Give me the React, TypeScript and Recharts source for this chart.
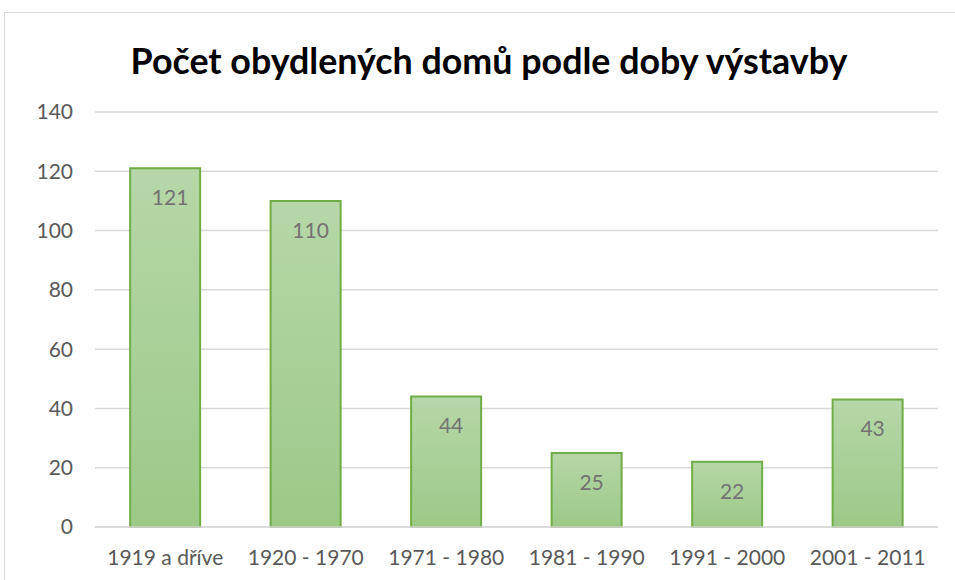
import React from 'react';
import { BarChart, Bar, XAxis, YAxis, CartesianGrid, LabelList } from 'recharts';

const categories = ['1919 a dříve', '1920 - 1970', '1971 - 1980', '1981 - 1990', '1991 - 2000', '2001 - 2011'];
const values = [121, 110, 44, 25, 22, 43];
const yTicks = [0, 20, 40, 60, 80, 100, 120, 140];

const title = 'Počet obydlených domů podle doby výstavby';

const data = categories.map((name, i) => ({ name, value: values[i] }));

const font = 'Lato, "Open Sans", sans-serif';

const App: React.FC = () => {
    return (
        <div style={{ position: 'absolute', left: 0, top: 0, width: 955, height: 580, background: '#fff', overflow: 'hidden', fontFamily: font }}>
            <div style={{ position: 'absolute', left: 4, top: 12, width: 1000, height: 1000, borderTop: '1px solid #d9d9d9', borderLeft: '1px solid #d9d9d9' }} />
            <div style={{ position: 'absolute', left: 0, top: 39, width: 978, textAlign: 'center', fontSize: 35.8, fontWeight: 700, color: '#000', lineHeight: '44px' }}>
                {title}
            </div>
            <div style={{ position: 'absolute', left: 0, top: 0 }}>
                <BarChart width={955} height={580} data={data} margin={{ top: 112, right: 17, bottom: 13, left: 0 }} barCategoryGap="25%">
                    <defs>
                        <linearGradient id="barFill" x1="0" y1="0" x2="0" y2="1">
                            <stop offset="0%" stopColor="#b6d7a8" />
                            <stop offset="100%" stopColor="#9cc987" />
                        </linearGradient>
                    </defs>
                    <CartesianGrid vertical={false} stroke="#d9d9d9" strokeWidth={1.5} />
                    <XAxis dataKey="name" height={40} axisLine={{ stroke: '#d9d9d9', strokeWidth: 1.5 }} tickLine={false} tickMargin={17} tick={{ fill: '#595959', fontSize: 21, fontFamily: font }} interval={0} />
                    <YAxis width={95} domain={[0, 140]} ticks={yTicks} axisLine={false} tickLine={false} tickSize={0} tickMargin={22} tick={{ fill: '#595959', fontSize: 21, fontFamily: font }} />
                    <Bar dataKey="value" fill="url(#barFill)" stroke="#70ad47" strokeWidth={2} isAnimationActive={false}>
                        <LabelList dataKey="value" position="insideTop" offset={22} dx={5} fill="#737373" fontSize={21} fontFamily={font} />
                    </Bar>
                </BarChart>
            </div>
        </div>
    );
};

export default App;
